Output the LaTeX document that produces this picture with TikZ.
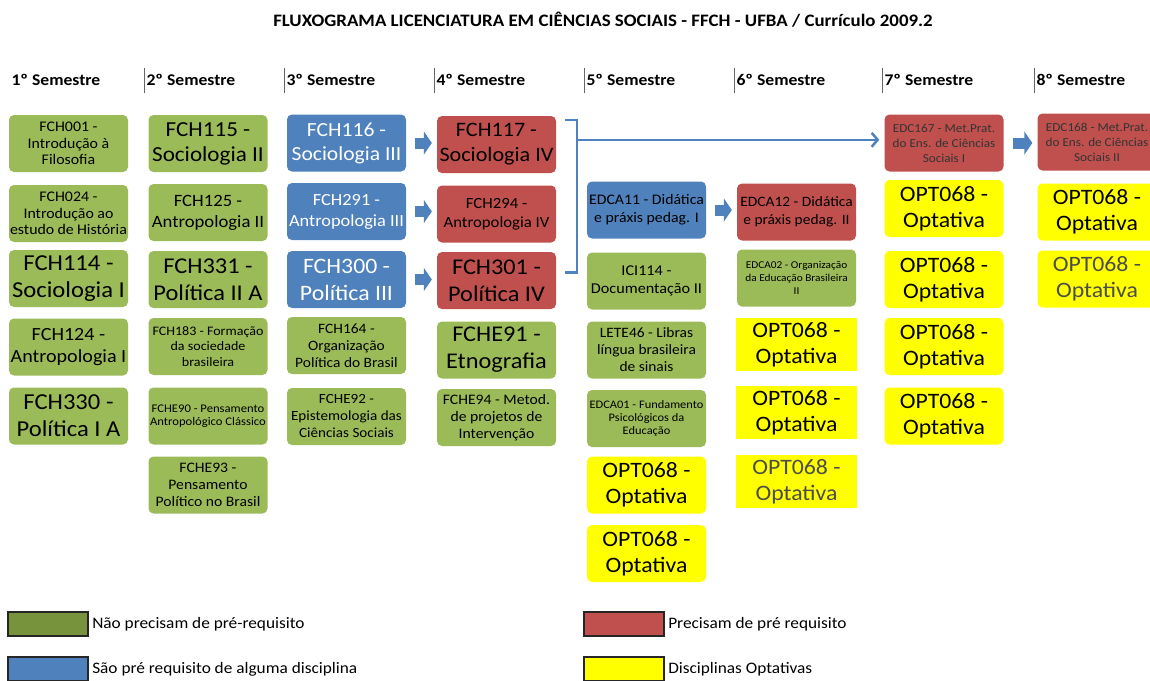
\documentclass[tikz,border=0pt]{standalone}
\usepackage{fontspec}
\setmainfont{Carlito}[FakeStretch=1.08]
\usetikzlibrary{arrows.meta,positioning,calc}

\definecolor{verde}{HTML}{9BBB59}
\definecolor{verdeesc}{HTML}{77933C}
\definecolor{azul}{HTML}{4F81BD}
\definecolor{vermelho}{HTML}{C0504D}
\definecolor{amarelo}{HTML}{FFFF00}
\newcommand{\fsz}[2]{\fontsize{#1}{#2}\selectfont}

\begin{document}
\begin{tikzpicture}[x=1pt, y=-1pt,
    disc/.style={rounded corners=5pt, minimum width=119pt, minimum height=57pt,
                 text width=117pt, inner sep=1pt, align=flush center},
    livre/.style={disc, fill=verde},
    prereq/.style={disc, fill=azul, text=white},
    precisa/.style={disc, fill=vermelho},
    opt/.style={disc, fill=amarelo, font=\fsz{22}{26}},
    optq/.style={opt, sharp corners, minimum width=121pt, minimum height=53pt},
    semestre/.style={anchor=west, font=\bfseries\fsz{16.3}{19}},
    bloco/.style={azul, line width=11pt, -{Triangle[length=8pt,width=23pt]},
                  shorten <=9pt, shorten >=5pt},
    chave/.style={azul, line width=2.5pt},
    linha/.style={azul, line width=2.5pt, -{Straight Barb[length=6pt,width=14pt]},
                  shorten >=5pt},
    legenda/.style={draw=black!85, line width=1.5pt, minimum width=80pt,
                    minimum height=24pt, inner sep=0pt},
    legtexto/.style={font=\fsz{16}{18}}]

    \useasboundingbox (0,0) rectangle (1150,680);

    \node[font=\bfseries\fsz{17.5}{21}] (titulo) at (603,20)
        {FLUXOGRAMA LICENCIATURA EM CIÊNCIAS SOCIAIS - FFCH - UFBA / Currículo 2009.2};

    % semestres
    \node[semestre] (S1) at (8,80) {1º Semestre};
    \node[semestre] (S2) at (143,80) {2º Semestre};
    \node[semestre] (S3) at (283,80) {3º Semestre};
    \node[semestre] (S4) at (433,80) {4º Semestre};
    \node[semestre] (S5) at (583,80) {5º Semestre};
    \node[semestre] (S6) at (733,80) {6º Semestre};
    \node[semestre] (S7) at (881,80) {7º Semestre};
    \node[semestre] (S8) at (1033,80) {8º Semestre};
    \foreach \x in {144,284,434,584,734,882,1034}
        \draw[black!60, line width=0.7pt] (\x,68) -- (\x,93);

    % 1o semestre
    \node[livre, font=\fsz{14.7}{16.5}] (F001) at (68.5,143.5) {FCH001 -\\Introdução à\\Filosofia};
    \node[livre, font=\fsz{14.7}{16.5}] (F024) at (68.5,213.5) {FCH024 -\\Introdução ao\\estudo de História};
    \node[livre, font=\fsz{22.8}{27}] (F114) at (68.5,278.5) {FCH114 -\\Sociologia I};
    \node[livre, font=\fsz{18.6}{22}] (F124) at (68.5,347) {FCH124 -\\Antropologia I};
    \node[livre, font=\fsz{22.8}{27}] (F330) at (68.5,416) {FCH330 -\\Política I A};

    % 2o semestre
    \node[livre, font=\fsz{21.4}{25}] (F115) at (208,143.5) {FCH115 -\\Sociologia II};
    \node[livre, font=\fsz{17.3}{21}] (F125) at (208,212.5) {FCH125 -\\Antropologia II};
    \node[livre, font=\fsz{22.6}{27}] (F331) at (208,279.5) {FCH331 -\\Política II A};
    \node[livre, font=\fsz{13}{15.5}] (F183) at (208,346.5) {FCH183 - Formação\\da sociedade\\brasileira};
    \node[livre, font=\fsz{11.7}{13.5}] (FE90) at (208,416) {FCHE90 - Pensamento\\Antropológico Clássico};
    \node[livre, font=\fsz{14.5}{17}] (FE93) at (208,485) {FCHE93 -\\Pensamento\\Político no Brasil};

    % 3o semestre
    \node[prereq, font=\fsz{20}{24}] (F116) at (346.5,143) {FCH116 -\\Sociologia III};
    \node[prereq, font=\fsz{17}{21}] (F291) at (346.5,211.5) {FCH291 -\\Antropologia III};
    \node[prereq, font=\fsz{22}{27}] (F300) at (346.5,279.5) {FCH300 -\\Política III};
    \node[livre, font=\fsz{14.3}{17}] (F164) at (346.5,345.5) {FCH164 -\\Organização\\Política do Brasil};
    \node[livre, font=\fsz{14}{17}] (FE92) at (346.5,416.5) {FCHE92 -\\Epistemologia das\\Ciências Sociais};

    % 4o semestre
    \node[precisa, font=\fsz{20.5}{25}] (F117) at (496.5,144.5) {FCH117 -\\Sociologia IV};
    \node[precisa, font=\fsz{15.5}{19}] (F294) at (496.5,214) {FCH294 -\\Antropologia IV};
    \node[precisa, font=\fsz{22.5}{27}] (F301) at (496.5,280.5) {FCH301 -\\Política IV};
    \node[livre, font=\fsz{22.5}{27}] (FE91) at (496.5,350) {FCHE91 -\\Etnografia};
    \node[livre, font=\fsz{14.5}{17}] (FE94) at (496.5,417.5) {FCHE94 - Metod.\\de projetos de\\Intervenção};

    % 5o semestre
    \node[disc, fill=azul, font=\fsz{14.6}{18}] (E11) at (646.5,210) {EDCA11 - Didática\\e práxis pedag. I};
    \node[livre, font=\fsz{15}{18}] (I114) at (646.5,281) {ICI114 -\\Documentação II};
    \node[livre, font=\fsz{14.3}{17}] (L46) at (646.5,350) {LETE46 - Libras\\língua brasileira\\de sinais};
    \node[livre, font=\fsz{11.5}{13}] (E01) at (646.5,418.5) {EDCA01 - Fundamento\\Psicológicos da\\Educação};
    \node[opt] (O51) at (646.5,485) {OPT068 -\\Optativa};
    \node[opt] (O52) at (646.5,553.5) {OPT068 -\\Optativa};

    % 6o semestre
    \node[precisa, font=\fsz{14.3}{18}] (E12) at (796.5,212) {EDCA12 - Didática\\e práxis pedag. II};
    \node[livre, font=\fsz{10.5}{13}] (E02) at (796.5,278) {EDCA02 - Organização\\da Educação Brasileira\\II};
    \node[optq] (O61) at (796.5,344.5) {OPT068 -\\Optativa};
    \node[optq] (O62) at (796.5,412.5) {OPT068 -\\Optativa};
    \node[optq, text=black!70] (O63) at (796.5,481.5) {OPT068 -\\Optativa};

    % 7o semestre
    \node[precisa, text=black!80, font=\fsz{12.2}{15}] (E167) at (944,143) {EDC167 - Met.Prat.\\do Ens. de Ciências\\Sociais I};
    \node[opt] (O71) at (944,208.5) {OPT068 -\\Optativa};
    \node[opt] (O72) at (944,279.5) {OPT068 -\\Optativa};
    \node[opt] (O73) at (944,346.5) {OPT068 -\\Optativa};
    \node[opt] (O74) at (944,416) {OPT068 -\\Optativa};

    % 8o semestre
    \node[precisa, text=black!80, font=\fsz{12.2}{15}] (E168) at (1097,142) {EDC168 - Met.Prat.\\do Ens. de Ciências\\Sociais II};
    \node[opt] (O81) at (1097,212) {OPT068 -\\Optativa};
    \node[opt, text=black!70] (O82) at (1097,279) {OPT068 -\\Optativa};

    % pre-requisitos
    \draw[bloco] (F116.east) -- (F116.east -| F117.west);
    \draw[bloco] (F291.east) -- (F291.east -| F294.west);
    \draw[bloco] (F300.east) -- (F300.east -| F301.west);
    \draw[bloco] (E11.east) -- (E11.east -| E12.west);
    \draw[bloco] (E167.east) -- (E167.east -| E168.west);

    \coordinate (chA) at ([xshift=9pt,yshift=-4pt]F117.north east);
    \coordinate (chB) at ([xshift=9pt,yshift=8pt]F301.east);
    \coordinate (chM) at ($(chA)+(12,20)$);
    \draw[chave] (chA) -- ++(12,0) |- (chB);
    \draw[linha] (chM) -- (chM -| E167.west);

    % legenda
    \node[legenda, fill=verdeesc] (LgVerde) at (48,624) {};
    \node[legtexto, right=0pt of LgVerde] (TxVerde) {Não precisam de pré-requisito};
    \node[legenda, fill=azul] (LgAzul) at (48,669) {};
    \node[legtexto, right=0pt of LgAzul] (TxAzul) {São pré requisito de alguma disciplina};
    \node[legenda, fill=vermelho] (LgVermelho) at (624,624) {};
    \node[legtexto, right=0pt of LgVermelho] (TxVermelho) {Precisam de pré requisito};
    \node[legenda, fill=amarelo] (LgAmarelo) at (624,669) {};
    \node[legtexto, right=0pt of LgAmarelo] (TxAmarelo) {Disciplinas Optativas};
\end{tikzpicture}
\end{document}
